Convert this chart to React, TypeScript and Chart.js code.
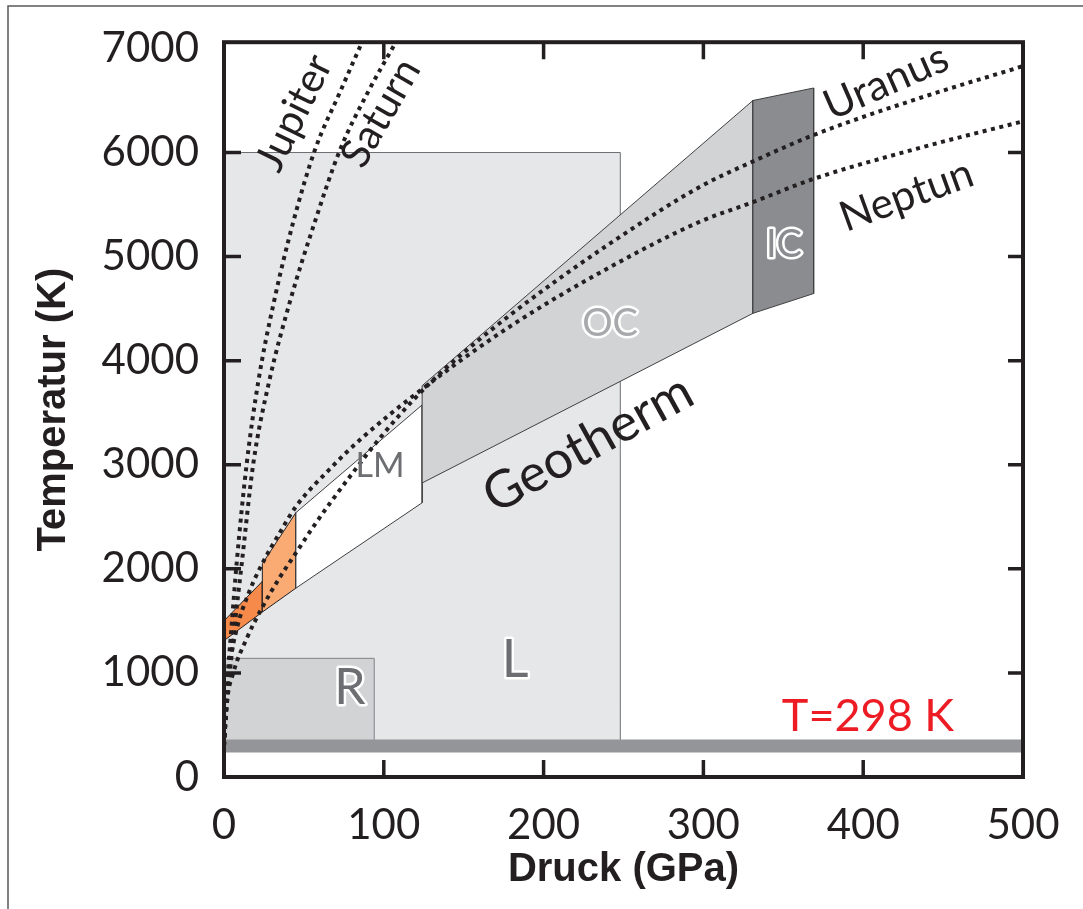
import React, { useEffect, useRef } from "react";
import { Chart, registerables } from "chart.js";

Chart.register(...registerables);

// ---------- axes ----------
const X_MIN = 0;
const X_MAX = 500;
const Y_MIN = 0;
const Y_MAX = 7060;
const X_TICKS = [0, 100, 200, 300, 400, 500];
const Y_TICKS = [0, 1000, 2000, 3000, 4000, 5000, 6000, 7000];

// ---------- regions (pressure GPa, temperature K), closed polygons ----------
const L_P = [0, 248, 248, 0, 0];
const L_T = [298, 298, 6000, 6000, 298];
const R_P = [0, 94, 94, 0, 0];
const R_T = [298, 298, 1140, 1140, 298];
const UM_P = [0, 24, 24, 0, 0];
const UM_T = [1500, 1880, 1585, 1310, 1500];
const TZ_P = [24, 45, 45, 24, 24];
const TZ_T = [2050, 2540, 1815, 1585, 2050];
const LM_P = [45, 124, 124, 45, 45];
const LM_T = [2540, 3575, 2635, 1815, 2540];
const OC_P = [124, 331, 331, 124, 124];
const OC_T = [3760, 6500, 4455, 2825, 3760];
const IC_P = [331, 369, 369, 331, 331];
const IC_T = [6500, 6620, 4645, 4455, 6500];
const BAND_P = [0, 500];
const BAND_T = [298, 298];

// ---------- planetary adiabats ----------
const JUPITER_P = [0, 1, 2.2, 4.4, 7.9, 14.2, 21.5, 31.3, 43.4, 56.9, 72.6, 86.4, 92];
const JUPITER_T = [300, 620, 950, 1380, 2050, 3008, 3803, 4569, 5336, 6025, 6581, 7060, 7250];
const SATURN_P = [0, 1, 3, 6.3, 11.1, 18.3, 28.3, 41.3, 56.9, 72.6, 90.1, 107.6, 114];
const SATURN_T = [300, 540, 900, 1400, 2050, 3008, 3803, 4569, 5336, 6025, 6581, 7060, 7230];
const URANUS_P = [0, 1.7, 5.8, 14.2, 23.6, 35, 45.1, 55.7, 66.3, 80.7, 97.6, 118.3, 138.3, 180, 240, 297.9, 330.4, 369.2, 435.5, 500];
const URANUS_T = [300, 700, 1000, 1330, 1620, 1920, 2155, 2400, 2630, 2925, 3257, 3620, 3920, 4450, 5110, 5671, 5910, 6169, 6524, 6830];
const NEPTUN_P = [0, 1.3, 3.8, 8.1, 15, 23.6, 35, 45.1, 66.3, 85.1, 123.9, 180, 240, 297.9, 330.4, 369.2, 435.5, 500];
const NEPTUN_T = [300, 640, 1080, 1430, 1750, 2040, 2350, 2600, 2960, 3240, 3726, 4339, 4886, 5336, 5520, 5748, 6045, 6300];

// ---------- annotations ----------
const LABEL_TEXTS = ["Jupiter", "Saturn", "Uranus", "Neptun", "Geotherm", "OC", "IC", "LM", "R", "L", "T=298 K"];
const LABEL_P = [44, 98.2, 414.3, 427.1, 227.8, 241.6, 350.4, 97.6, 78.8, 182.1, 403];
const LABEL_T = [6380, 6380, 6677, 5587, 3200, 4359, 5115, 2989, 853, 1121, 584];

const LABEL_STYLE: Record<string, any> = {
  Jupiter: { angle: -64, font: "400 41px Lato", fill: "#231f20" },
  Saturn: { angle: -60, font: "400 41px Lato", fill: "#231f20" },
  Uranus: { angle: -23.7, font: "400 42px Lato", fill: "#231f20" },
  Neptun: { angle: -20, font: "400 42px Lato", fill: "#231f20" },
  Geotherm: { angle: -29, font: "400 52px Lato", fill: "#231f20" },
  OC: { angle: 0, font: "400 38px Lato", fill: "#a7a9ac", stroke: "#ffffff" },
  IC: { angle: 0, font: "400 38px Lato", fill: "#8a8c8f", stroke: "#ffffff" },
  LM: { angle: 0, font: "400 34px Lato", fill: "#6d6e71" },
  R: { angle: 0, font: "400 50px Lato", fill: "#6d6e71", stroke: "#ffffff" },
  L: { angle: 0, font: "400 52px Lato", fill: "#6d6e71", stroke: "#ffffff" },
  "T=298 K": { angle: 0, font: "400 45px Lato", fill: "#ed1c24" },
};

const zip = (ps: number[], ts: number[]) => ps.map((p, i) => ({ x: p, y: ts[i] }));

const INK = "#231f20";

function region(label: string, ps: number[], ts: number[], bg: string, border: string, order: number) {
  return {
    label,
    data: zip(ps, ts),
    backgroundColor: bg,
    borderColor: border,
    borderWidth: 1,
    fill: "shape",
    pointRadius: 0,
    tension: 0,
    order,
  };
}

function curve(label: string, ps: number[], ts: number[]) {
  return {
    label,
    data: zip(ps, ts),
    borderColor: INK,
    borderWidth: 4,
    borderDash: [4, 4.6],
    borderCapStyle: "butt",
    fill: false,
    pointRadius: 0,
    cubicInterpolationMode: "monotone",
    order: 0,
  };
}

const decorPlugin = {
  id: "decor",
  beforeDraw(chart: any) {
    const { ctx, width, height } = chart;
    ctx.save();
    ctx.fillStyle = "#ffffff";
    ctx.fillRect(0, 0, width, height);
    ctx.strokeStyle = "#58595b";
    ctx.lineWidth = 1.5;
    ctx.beginPath();
    ctx.moveTo(8, height);
    ctx.lineTo(8, 6);
    ctx.lineTo(width, 6);
    ctx.stroke();
    ctx.restore();
  },
  afterDatasetsDraw(chart: any) {
    const { ctx, chartArea } = chart;
    const xs = chart.scales.x;
    const ys = chart.scales.y;
    ctx.save();
    // labels
    LABEL_TEXTS.forEach((txt, i) => {
      const st = LABEL_STYLE[txt];
      const px = xs.getPixelForValue(LABEL_P[i]);
      const py = ys.getPixelForValue(LABEL_T[i]);
      ctx.save();
      ctx.translate(px, py);
      ctx.rotate((st.angle * Math.PI) / 180);
      ctx.font = st.font;
      ctx.textAlign = "center";
      ctx.textBaseline = "middle";
      if (st.stroke) {
        ctx.lineJoin = "round";
        ctx.lineWidth = 5;
        ctx.strokeStyle = st.stroke;
        ctx.strokeText(txt, 0, 0);
      }
      ctx.fillStyle = st.fill;
      ctx.fillText(txt, 0, 0);
      ctx.restore();
    });
    // frame
    ctx.strokeStyle = INK;
    ctx.lineWidth = 4;
    ctx.strokeRect(chartArea.left, chartArea.top, chartArea.right - chartArea.left, chartArea.bottom - chartArea.top);
    // inward ticks
    const TL = 17;
    ctx.lineWidth = 3.5;
    ctx.beginPath();
    X_TICKS.forEach((v) => {
      if (v <= X_MIN || v >= X_MAX) return;
      const px = xs.getPixelForValue(v);
      ctx.moveTo(px, chartArea.bottom);
      ctx.lineTo(px, chartArea.bottom - TL);
      ctx.moveTo(px, chartArea.top);
      ctx.lineTo(px, chartArea.top + TL);
    });
    Y_TICKS.forEach((v) => {
      if (v <= Y_MIN || v >= 7000) return;
      const py = ys.getPixelForValue(v);
      ctx.moveTo(chartArea.left, py);
      ctx.lineTo(chartArea.left + TL, py);
      ctx.moveTo(chartArea.right, py);
      ctx.lineTo(chartArea.right - TL + 2, py);
    });
    ctx.stroke();
    ctx.restore();
  },
};

export default function App() {
  const ref = useRef<HTMLCanvasElement>(null);
  useEffect(() => {
    const canvas = ref.current;
    if (!canvas) return;
    const tickFont = { family: "Lato", size: 42, weight: "400" as any };
    const chart = new Chart(canvas, {
      type: "line",
      data: {
        datasets: [
          curve("Jupiter", JUPITER_P, JUPITER_T),
          curve("Saturn", SATURN_P, SATURN_T),
          curve("Uranus", URANUS_P, URANUS_T),
          curve("Neptun", NEPTUN_P, NEPTUN_T),
          {
            label: "T=298 K",
            data: zip(BAND_P, BAND_T),
            borderColor: "#939598",
            borderWidth: 13,
            borderCapStyle: "butt",
            fill: false,
            pointRadius: 0,
            order: 1,
          },
          region("IC", IC_P, IC_T, "#8a8c8f", "#414042", 2),
          region("OC", OC_P, OC_T, "#d1d3d4", "#414042", 2),
          region("LM", LM_P, LM_T, "#ffffff", "#414042", 2),
          region("TZ", TZ_P, TZ_T, "#f9ab73", "#231f20", 2),
          region("UM", UM_P, UM_T, "#f58a4b", "#231f20", 2),
          region("R", R_P, R_T, "#d1d3d4", "#808285", 3),
          region("L", L_P, L_T, "#e6e7e8", "#6d6e71", 4),
        ] as any,
      },
      options: {
        responsive: true,
        maintainAspectRatio: false,
        animation: false,
        events: [],
        layout: { padding: { left: 0, right: 60, top: 39, bottom: 0 } },
        plugins: {
          legend: { display: false },
          tooltip: { enabled: false },
        },
        scales: {
          x: {
            type: "linear",
            min: X_MIN,
            max: X_MAX,
            grid: { display: false },
            border: { display: false },
            afterBuildTicks: (s: any) => {
              s.ticks = X_TICKS.map((v) => ({ value: v }));
            },
            afterFit: (s: any) => {
              s.height = 132;
            },
            ticks: {
              autoSkip: false,
              maxRotation: 0,
              padding: 15,
              color: INK,
              font: tickFont,
              callback: (v: any) => String(v),
            },
            title: {
              display: true,
              text: "Druck (GPa)",
              color: INK,
              font: { family: "Liberation Sans", size: 40, weight: "bold" },
              padding: { top: 0, bottom: 15 },
            },
          },
          y: {
            type: "linear",
            min: Y_MIN,
            max: Y_MAX,
            grid: { display: false },
            border: { display: false },
            afterBuildTicks: (s: any) => {
              s.ticks = Y_TICKS.map((v) => ({ value: v }));
            },
            afterFit: (s: any) => {
              s.width = 224;
            },
            ticks: {
              autoSkip: false,
              padding: 17,
              color: INK,
              font: tickFont,
              callback: (v: any) => String(v),
            },
            title: {
              display: true,
              text: "Temperatur (K)",
              color: INK,
              font: { family: "Liberation Sans", size: 40, weight: "bold" },
              padding: { top: 30, bottom: 0 },
            },
          },
        },
      } as any,
      plugins: [decorPlugin],
    });
    return () => chart.destroy();
  }, []);
  return (
    <div style={{ position: "absolute", left: 0, top: 0, width: 1083, height: 909 }}>
      <canvas ref={ref} />
    </div>
  );
}
